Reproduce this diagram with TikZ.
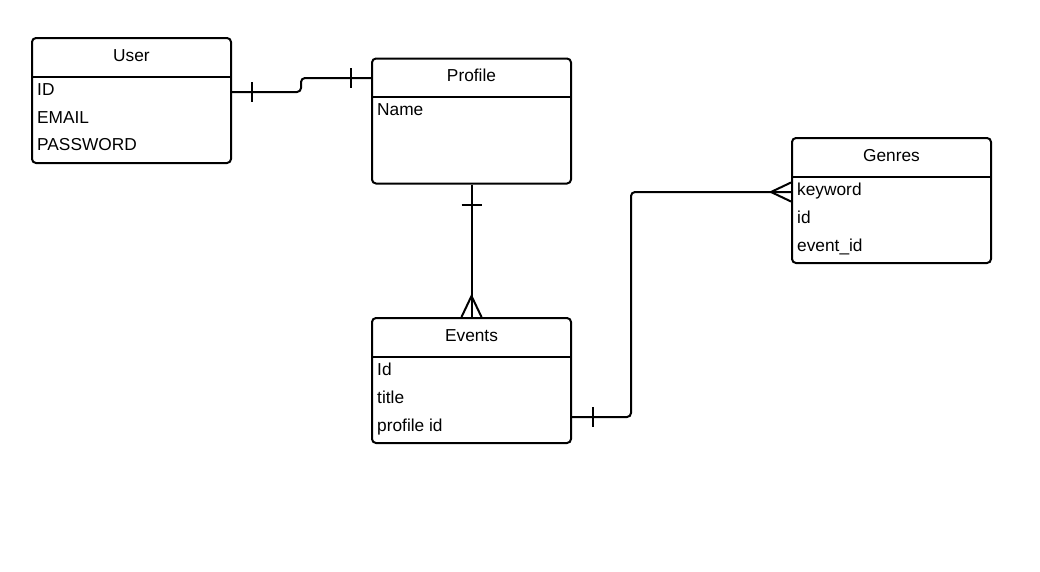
\documentclass[tikz,border=0pt]{standalone}
\usepackage{fontspec}
\setmainfont{Liberation Sans}
\begin{document}
\begin{tikzpicture}[x=1pt, y=-1pt, font=\fontsize{17.3}{20}\selectfont,
    tableStyle/.style={rectangle, draw, line width=2pt, rounded corners=4pt, minimum width=199pt, minimum height=125pt, inner sep=0pt},
    headStyle/.style={rectangle, minimum width=199pt, minimum height=39.5pt, inner sep=0pt, text height=12.4pt, text depth=3.6pt, anchor=north},
    fieldStyle/.style={anchor=base west, inner sep=0pt},
    linkStyle/.style={line width=2pt}]
    \useasboundingbox (0,0) rectangle (1040,571);

    % tables
    \node[tableStyle] (user)    at (131.5, 100.5) {};
    \node[headStyle]  (user_h)  at (user.north) {User};
    \node[fieldStyle] (user_0)  at (37, 95.5) {ID};
    \node[fieldStyle] (user_1)  at (37, 123.3) {EMAIL};
    \node[fieldStyle] (user_2)  at (37, 150.9) {PASSWORD};

    \node[tableStyle] (profile)   at (471.5, 121) {};
    \node[headStyle]  (profile_h) at (profile.north) {Profile};
    \node[fieldStyle] (profile_0) at (377, 115) {Name};

    \node[tableStyle] (events)   at (471.5, 380.5) {};
    \node[headStyle]  (events_h) at (events.north) {Events};
    \node[fieldStyle] (events_0) at (377, 375) {Id};
    \node[fieldStyle] (events_1) at (377, 403) {title};
    \node[fieldStyle] (events_2) at (377, 431) {profile id};

    \node[tableStyle] (genres)   at (891.5, 200.5) {};
    \node[headStyle]  (genres_h) at (genres.north) {Genres};
    \node[fieldStyle] (genres_0) at (797, 195) {keyword};
    \node[fieldStyle] (genres_1) at (797, 223) {id};
    \node[fieldStyle] (genres_2) at (797, 251) {event\_id};

    \foreach \t in {user, profile, events, genres}
        \draw[line width=2pt] (\t_h.south west) -- (\t_h.south east);

    % User -- Profile
    \coordinate (user_r)    at (user.east |- 0, 92);
    \coordinate (profile_l) at (profile.west |- 0, 78);
    \draw[linkStyle, rounded corners=4pt] (user_r) -- (301, 92) -- (301, 78) -- (profile_l);
    \draw[linkStyle] ([xshift=20pt]user_r) ++(0,-10) -- ++(0,20);
    \draw[linkStyle] ([xshift=-20pt]profile_l) ++(0,-10) -- ++(0,20);

    % Profile -- Events
    \draw[linkStyle] (profile.south) -- (events.north);
    \draw[linkStyle] ([yshift=-20pt]profile.south) ++(-10,0) -- ++(20,0);
    \draw[linkStyle] ([xshift=-10pt]events.north) -- ([yshift=21pt]events.north) -- ([xshift=10pt]events.north);

    % Events -- Genres
    \coordinate (events_r) at (events.east |- 0, 417);
    \coordinate (genres_l) at (genres.west |- 0, 192);
    \draw[linkStyle, rounded corners=4pt] (events_r) -- (631, 417) -- (631, 192) -- (genres_l);
    \draw[linkStyle] ([xshift=21pt]events_r) ++(0,-10) -- ++(0,20);
    \draw[linkStyle] ([yshift=9.5pt]genres_l) -- ([xshift=-20pt]genres_l) -- ([yshift=-9.5pt]genres_l);
\end{tikzpicture}
\end{document}
